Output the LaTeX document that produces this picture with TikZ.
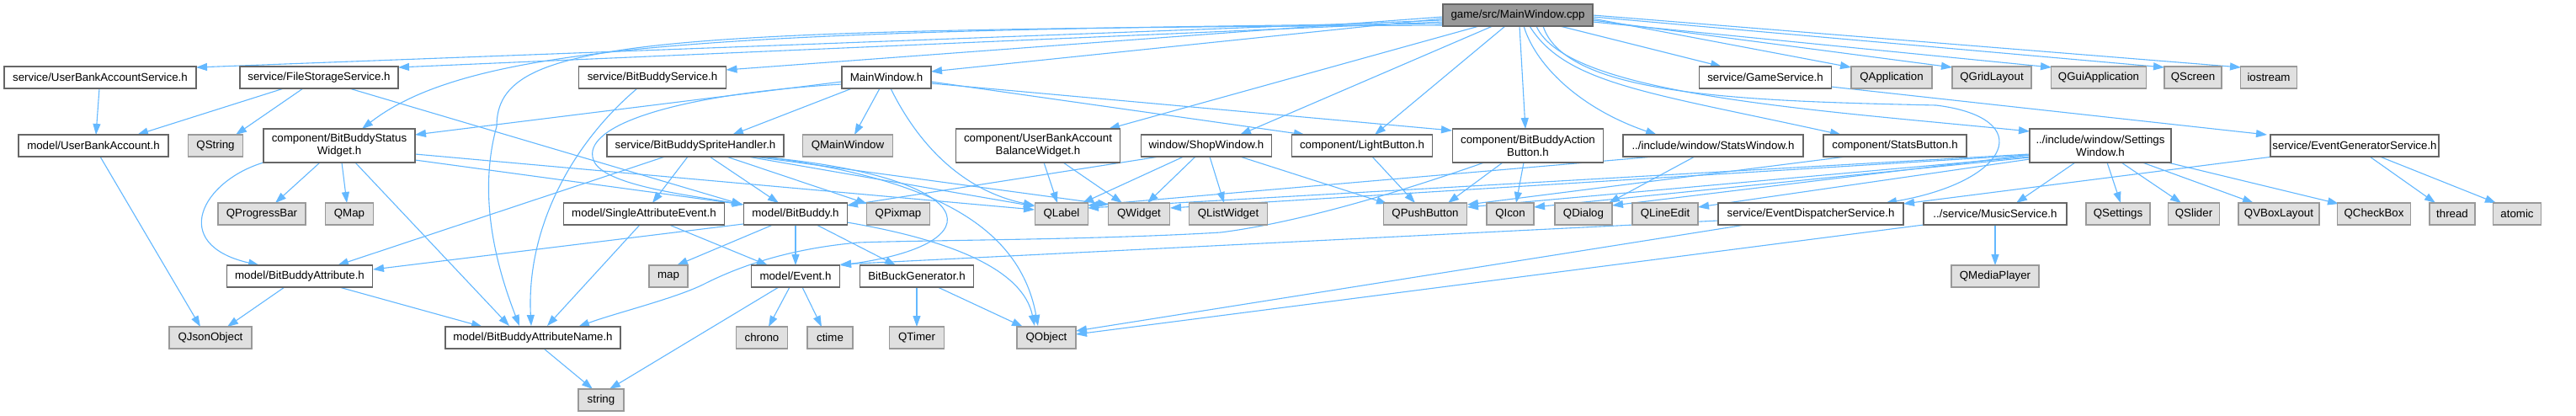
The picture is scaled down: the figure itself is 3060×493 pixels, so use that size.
\documentclass[tikz,border=0pt]{standalone}
\usepackage{fontspec}
\setmainfont{Liberation Sans}
\usetikzlibrary{arrows.meta,calc}
\definecolor{edgec}{HTML}{63B8FF}
\definecolor{hdrborder}{HTML}{666666}
\definecolor{extfill}{HTML}{E0E0E0}
\definecolor{extborder}{HTML}{999999}
\definecolor{rootfill}{HTML}{999999}
\pgfdeclarelayer{bg}
\pgfsetlayers{bg,main}
\newcommand{\depline}[4]{\draw[dep] ($(#1)+(#2)$) -- ($(#3)+(#4)$);}
\begin{document}
\begin{tikzpicture}[x=1pt,y=-1pt,
  font=\fontsize{13.3}{15}\selectfont,
  box/.style={draw, line width=1.1pt, inner sep=0pt, minimum height=26pt, align=center},
  hdr/.style={box, draw=hdrborder, fill=white},
  ext/.style={box, draw=extborder, fill=extfill},
  rootbox/.style={box, draw=hdrborder, fill=rootfill},
  tall/.style={minimum height=40pt},
  dep/.style={draw=edgec, line width=1.1pt, -{Triangle[length=13pt,width=9pt]}}]
\useasboundingbox (0,0) rectangle (3060,493);
% root
\node[rootbox, minimum width=178pt] (cpp) at (1803,18) {game/src/MainWindow.cpp};
% row 1
\node[hdr, minimum width=228pt] (ubas) at (119,92) {service/UserBankAccountService.h};
\node[hdr, minimum width=188pt] (fss) at (379,92) {service/FileStorageService.h};
\node[hdr, minimum width=175pt] (bbs) at (775,92) {service/BitBuddyService.h};
\node[hdr, minimum width=106pt] (mwh) at (1053,92) {MainWindow.h};
\node[hdr, minimum width=157pt] (gs) at (2097,92) {service/GameService.h};
\node[ext, minimum width=96pt] (qapp) at (2247,92) {QApplication};
\node[ext, minimum width=94pt] (qgrid) at (2366,92) {QGridLayout};
\node[ext, minimum width=113pt] (qgui) at (2493,92) {QGuiApplication};
\node[ext, minimum width=68pt] (qscreen) at (2605,92) {QScreen};
\node[ext, minimum width=67pt] (iostream) at (2695,92) {iostream};
% row 2
\node[hdr, minimum width=178pt] (uba) at (111,173) {model/UserBankAccount.h};
\node[ext, minimum width=65pt] (qstring) at (256,173) {QString};
\node[hdr, tall, minimum width=180pt] (bbsw) at (403,173) {component/BitBuddyStatus\\Widget.h};
\node[hdr, minimum width=210pt] (bbsh) at (826,173) {service/BitBuddySpriteHandler.h};
\node[ext, minimum width=107pt] (qmainwin) at (1007,173) {QMainWindow};
\node[hdr, tall, minimum width=195pt] (ubabw) at (1233,173) {component/UserBankAccount\\BalanceWidget.h};
\node[hdr, minimum width=155pt] (shop) at (1433,173) {window/ShopWindow.h};
\node[hdr, minimum width=167pt] (light) at (1618,173) {component/LightButton.h};
\node[hdr, tall, minimum width=179pt] (bbab) at (1815,173) {component/BitBuddyAction\\Button.h};
\node[hdr, minimum width=214pt] (statsw) at (2035,173) {../include/window/StatsWindow.h};
\node[hdr, minimum width=170pt] (statsb) at (2251,173) {component/StatsButton.h};
\node[hdr, tall, minimum width=168pt] (settings) at (2495,173) {../include/window/Settings\\Window.h};
\node[hdr, minimum width=200pt] (egs) at (2797,173) {service/EventGeneratorService.h};
% row 3
\node[ext, minimum width=104pt] (qprog) at (311,254) {QProgressBar};
\node[ext, minimum width=57pt] (qmap) at (415,254) {QMap};
\node[hdr, minimum width=191pt] (sae) at (765,254) {model/SingleAttributeEvent.h};
\node[hdr, minimum width=123pt] (bb) at (945,254) {model/BitBuddy.h};
\node[ext, minimum width=75pt] (qpix) at (1067,254) {QPixmap};
\node[ext, minimum width=63pt] (qlabel) at (1261,254) {QLabel};
\node[ext, minimum width=73pt] (qwidget) at (1353,254) {QWidget};
\node[ext, minimum width=93pt] (qlist) at (1459,254) {QListWidget};
\node[ext, minimum width=99pt] (qpush) at (1693,254) {QPushButton};
\node[ext, minimum width=56pt] (qicon) at (1794,254) {QIcon};
\node[ext, minimum width=68pt] (qdialog) at (1881,254) {QDialog};
\node[ext, minimum width=78pt] (qline) at (1978,254) {QLineEdit};
\node[hdr, minimum width=220pt] (eds) at (2151,254) {service/EventDispatcherService.h};
\node[hdr, minimum width=170pt] (music) at (2370,254) {../service/MusicService.h};
\node[ext, minimum width=76pt] (qsettings) at (2516,254) {QSettings};
\node[ext, minimum width=61pt] (qslider) at (2606,254) {QSlider};
\node[ext, minimum width=96pt] (qvbox) at (2707,254) {QVBoxLayout};
\node[ext, minimum width=87pt] (qcheck) at (2820,254) {QCheckBox};
\node[ext, minimum width=54pt] (thread) at (2913,254) {thread};
\node[ext, minimum width=57pt] (atomic) at (2990,254) {atomic};
% row 4
\node[hdr, minimum width=173pt] (bba) at (356,328) {model/BitBuddyAttribute.h};
\node[ext, minimum width=46pt] (map) at (794,328) {map};
\node[hdr, minimum width=105pt] (event) at (945,328) {model/Event.h};
\node[hdr, minimum width=135pt] (bbg) at (1089,328) {BitBuckGenerator.h};
\node[ext, minimum width=104pt] (qmedia) at (2370,328) {QMediaPlayer};
% row 5
\node[ext, minimum width=98pt] (qjson) at (250,401) {QJsonObject};
\node[hdr, minimum width=208pt] (bban) at (633,401) {model/BitBuddyAttributeName.h};
\node[ext, minimum width=61pt] (chrono) at (905,401) {chrono};
\node[ext, minimum width=54pt] (ctime) at (986,401) {ctime};
\node[ext, minimum width=65pt] (qtimer) at (1089,401) {QTimer};
\node[ext, minimum width=70pt] (qobject) at (1243,401) {QObject};
% row 6
\node[ext, minimum width=54pt] (string) at (714,475) {string};

\begin{pgfonlayer}{bg}
\fill[white] (0,0) rectangle (3060,493);
% from MainWindow.cpp
\depline{cpp}{-89,6}{ubas}{114,-12}
\depline{cpp}{-89,8}{fss}{94,-12}
\draw[dep] ($(cpp)+(-89,10)$) .. controls (850,36) and (560,52) .. ($(bbsw)+(27,-20)$);
\draw[dep] ($(cpp)+(-89,12)$) .. controls (760,35) and (590,45) .. (590,150) .. controls (565,240) and (595,330) .. ($(bban)+(-16,-14)$);
\depline{cpp}{-89,2}{bbs}{87.5,-9}
\depline{cpp}{-89,4}{mwh}{53,-7}
\depline{cpp}{-46,13}{ubabw}{84,-20}
\depline{cpp}{-30,13}{shop}{40,-13}
\depline{cpp}{-15,13}{light}{15,-13}
\depline{cpp}{2,13}{bbab}{-3,-20}
\draw[dep] ($(cpp)+(7,13)$) .. controls (1825,80) and (1880,130) .. ($(statsw)+(-67,-13)$);
\draw[dep] ($(cpp)+(14,13)$) .. controls (1860,100) and (1960,110) .. ($(statsb)+(-64,-13)$);
\draw[dep] ($(cpp)+(22,13)$) .. controls (1860,112) and (2150,130) .. ($(settings)+(-84,-17)$);
\draw[dep] ($(cpp)+(30,13)$) .. controls (1860,115) and (2080,120) .. (2300,125) .. controls (2420,140) and (2390,215) .. ($(eds)+(89,-13)$);
\depline{cpp}{50,13}{gs}{-52,-13}
\depline{cpp}{89,4}{qapp}{-48,-12}
\depline{cpp}{89,6}{qgrid}{-47,-12}
\depline{cpp}{89,8}{qgui}{-56,-12}
\depline{cpp}{89,2}{qscreen}{-34,-12}
\depline{cpp}{89,0}{iostream}{-33,-12}
% MainWindow.h
\depline{mwh}{-53,5}{bbsw}{90,-13}
\depline{mwh}{-8,13}{qmainwin}{8,-13}
\depline{mwh}{-41,13}{bbsh}{44,-13}
\draw[dep] ($(mwh)+(-53,8)$) .. controls (800,112) and (690,150) .. (705,190) .. controls (715,220) and (820,232) .. ($(bb)+(-62,-11)$);
\draw[dep] ($(mwh)+(5,13)$) .. controls (1100,190) and (1160,230) .. ($(qlabel)+(-32,-10)$);
\depline{mwh}{53,5}{light}{-68,-13}
\depline{mwh}{53,7}{bbab}{-90,-18}
% BitBuddyService
\draw[dep] ($(bbs)+(-18,13)$) .. controls (680,170) and (625,270) .. ($(bban)+(-2,-14)$);
% FileStorageService / UserBankAccount
\depline{fss}{-42,13}{uba}{52,-13}
\depline{fss}{-19,13}{qstring}{24,-13}
\depline{fss}{36,13}{bb}{-63,-11}
\depline{ubas}{-1,13}{uba}{3,-13}
\depline{uba}{8,13}{qjson}{-12,-13}
% BitBuddyStatusWidget
\depline{bbsw}{-23,20}{qprog}{16,-13}
\depline{bbsw}{3,20}{qmap}{-3,-13}
\draw[dep] ($(bbsw)+(-90,20)$) .. controls (240,215) and (200,290) .. ($(bba)+(-48,-13)$);
\depline{bbsw}{19,20}{bban}{-28,-14}
\depline{bbsw}{90,10}{qlabel}{-32,-5}
\depline{bbsw}{90,17}{bb}{-62,-11}
% BitBuddyAttribute
\depline{bba}{-18,13}{qjson}{20,-13}
\depline{bba}{47,13}{bban}{-60,-13}
% BitBuddy
\depline{bb}{-62,12}{bba}{87,-8}
\depline{bb}{-27,13}{map}{10,-13}
\depline{bb}{0,13}{event}{0,-13}
\depline{bb}{25,13}{bbg}{-25,-13}
\draw[dep] ($(bb)+(61,10)$) .. controls (1130,285) and (1215,320) .. ($(qobject)+(-14,-14)$);
% SpriteHandler
\depline{bbsh}{-36,13}{bba}{45,-13}
\depline{bbsh}{-9,13}{sae}{10,-13}
\depline{bbsh}{17,13}{bb}{-20,-13}
\depline{bbsh}{37,13}{qpix}{-37,-12}
\depline{bbsh}{62,13}{qlabel}{-32,-9}
\depline{bbsh}{70,13}{qwidget}{-36,-11}
\draw[dep] ($(bbsh)+(80,13)$) .. controls (1090,210) and (1210,260) .. ($(qobject)+(-10,-14)$);
\draw[dep] ($(bbsh)+(75,13)$) .. controls (1170,210) and (1185,290) .. ($(event)+(53,-13)$);
% SingleAttributeEvent / Event / Name / Generator
\depline{sae}{-5,13}{bban}{17,-14}
\depline{sae}{30,13}{event}{-33,-13}
\depline{event}{-7,13}{chrono}{8,-13}
\depline{event}{8,13}{ctime}{-10,-13}
\depline{event}{-20,13}{string}{10,-13}
\depline{bban}{13,13}{string}{-10,-13}
\depline{bbg}{0,13}{qtimer}{0,-13}
\depline{bbg}{25,13}{qobject}{-28,-13}
% widgets
\depline{ubabw}{7,20}{qlabel}{-5,-13}
\depline{ubabw}{30,20}{qwidget}{-20,-13}
\depline{shop}{-27,13}{qlabel}{25,-13}
\depline{shop}{-13,13}{qwidget}{10,-13}
\depline{shop}{4,13}{qlist}{-5,-13}
\depline{shop}{-56,13}{bb}{61,-10}
\depline{shop}{40,13}{qpush}{-45,-12}
\depline{light}{12,13}{qpush}{-12,-13}
\depline{bbab}{-30,20}{qpush}{27,-13}
\depline{bbab}{-5,20}{qicon}{7,-13}
\draw[dep] ($(bbab)+(-52,20)$) .. controls (1700,215) and (1560,262) .. (1450,276) .. controls (1300,285) and (1100,285) .. (1020,288) .. controls (940,295) and (880,315) .. (835,338) .. controls (800,355) and (730,372) .. ($(bban)+(54,-13)$);
\depline{statsw}{-22,13}{qdialog}{30,-13}
\depline{statsw}{-70,13}{qlabel}{31,-10}
\depline{statsb}{-58,13}{qpush}{50,-11}
% SettingsWindow
\depline{settings}{-84,13}{qpush}{50,-8}
\depline{settings}{-84,14}{qicon}{28,-8}
\depline{settings}{-84,11}{qdialog}{34,-10}
\depline{settings}{-84,16}{qline}{39,-8}
\depline{settings}{-84,10}{qlabel}{31,-7}
\depline{settings}{-84,11}{qwidget}{37,-7}
\depline{settings}{-30,20}{music}{25,-13}
\depline{settings}{8,20}{qsettings}{3,-13}
\depline{settings}{25,20}{qslider}{-15,-13}
\depline{settings}{50,20}{qvbox}{-30,-13}
\depline{settings}{80,20}{qcheck}{-42,-12}
% services
\depline{eds}{-78,13}{qobject}{35,-8}
\depline{eds}{-110,8}{event}{53,-14}
\depline{music}{-85,13}{qobject}{35,-4}
\depline{music}{0,13}{qmedia}{0,-13}
\depline{egs}{18,13}{thread}{-20,-13}
\depline{egs}{30,13}{atomic}{-25,-13}
\depline{egs}{-97,13}{eds}{110,-12}
\depline{gs}{78,11}{egs}{-104,-13}
\end{pgfonlayer}
\end{tikzpicture}
\end{document}
